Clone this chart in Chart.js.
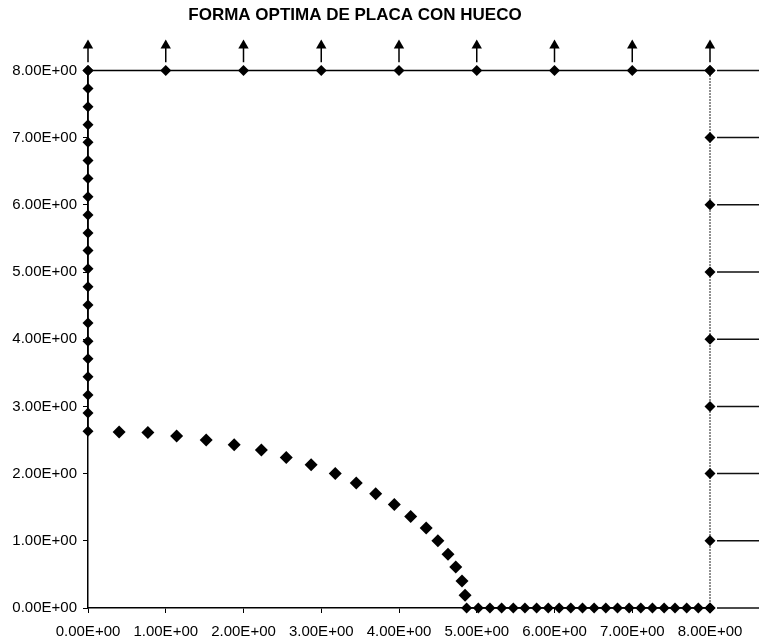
<!DOCTYPE html>
<html>
<head>
<meta charset="utf-8">
<script src="https://cdn.jsdelivr.net/npm/chart.js@4/dist/chart.umd.min.js"></script>
<style>
  html, body { margin: 0; padding: 0; background: #fff; }
  canvas { display: block; }
</style>
</head>
<body>
<canvas id="plate" width="759" height="640"></canvas>
<script>
// === Data ===
const tickLabels = ["0.00E+00", "1.00E+00", "2.00E+00", "3.00E+00", "4.00E+00",
  "5.00E+00", "6.00E+00", "7.00E+00", "8.00E+00"];

// left edge (x = 0)
const leftY = [2.63, 2.90, 3.17, 3.44, 3.71, 3.97, 4.24, 4.51, 4.78, 5.05, 5.32,
  5.58, 5.85, 6.12, 6.39, 6.66, 6.93, 7.19, 7.46, 7.73, 8.00];

// hole boundary
const holeX = [0.40, 0.77, 1.14, 1.52, 1.88, 2.23, 2.55, 2.87, 3.18, 3.45, 3.70,
  3.94, 4.15, 4.35, 4.50, 4.63, 4.73, 4.81, 4.85];
const holeY = [2.62, 2.61, 2.56, 2.50, 2.43, 2.35, 2.24, 2.13, 2.00, 1.86, 1.70,
  1.54, 1.36, 1.19, 1.00, 0.80, 0.61, 0.40, 0.19];

// bottom edge (y = 0)
const bottomX = [4.87, 5.02, 5.17, 5.32, 5.47, 5.62, 5.77, 5.92, 6.06, 6.21, 6.36,
  6.51, 6.66, 6.81, 6.96, 7.11, 7.26, 7.41, 7.55, 7.70, 7.85, 8.00];

// top edge (y = 8) and right edge (x = 8)
const topX = [0, 1, 2, 3, 4, 5, 6, 7, 8];
const rightY = [0, 1, 2, 3, 4, 5, 6, 7, 8];

// loads (arrows above the top edge) and supports (right of the right edge)
const arrowBase = 8.12;
const arrowTip = 8.37;
const supportFrom = 8.09;
const supportTo = 8.65;

// === Build datasets ===
const pts = (xs, ys) => xs.map((x, i) => ({ x, y: ys[i] }));

function segments(list) {
  // list of [a, b] point pairs -> one line with gaps between them
  return list.flatMap(([a, b]) => [a, b, { x: a.x, y: null }]);
}

const diamond = {
  pointStyle: "rectRot",
  pointBackgroundColor: "#000",
  pointBorderColor: "#000",
  pointBorderWidth: 0,
  clip: false,
};

const datasets = [
  {
    label: "top",
    data: pts(topX, topX.map(() => 8)),
    borderColor: "#000",
    borderWidth: 1.5,
    pointRadius: 5.5,
    ...diamond,
  },
  {
    label: "left",
    data: pts(leftY.map(() => 0), leftY),
    borderColor: "#000",
    borderWidth: 1.5,
    pointRadius: 5.5,
    ...diamond,
  },
  {
    label: "right",
    data: pts(rightY.map(() => 8), rightY),
    borderColor: "#222",
    borderWidth: 1,
    borderDash: [2, 1],
    pointRadius: 5.5,
    ...diamond,
  },
  {
    label: "bottom",
    data: pts(bottomX, bottomX.map(() => 0)),
    borderColor: "#000",
    borderWidth: 1.5,
    pointRadius: 5.5,
    ...diamond,
  },
  {
    label: "hole",
    data: pts(holeX, holeY),
    showLine: false,
    pointRadius: 6.5,
    ...diamond,
  },
  {
    label: "arrows",
    data: segments(topX.map((x) => [{ x, y: arrowBase }, { x, y: arrowTip }])),
    borderColor: "#000",
    borderWidth: 1.5,
    pointRadius: 0,
    clip: false,
  },
  {
    label: "heads",
    data: pts(topX, topX.map(() => arrowTip)),
    showLine: false,
    pointStyle: "triangle",
    pointRadius: 6,
    pointBackgroundColor: "#000",
    pointBorderColor: "#000",
    pointBorderWidth: 0,
    clip: false,
    outside: true, // drawn by the plugin below, points sit above the chart area
  },
  {
    label: "supports",
    data: segments(rightY.map((y) => [{ x: supportFrom, y }, { x: supportTo, y }])),
    borderColor: "#111",
    borderWidth: 1.5,
    pointRadius: 0,
    clip: false,
  },
];

// points outside the chart area are skipped by Chart.js, so draw them here
const outsidePoints = {
  id: "outsidePoints",
  afterDatasetsDraw(chart) {
    chart.data.datasets.forEach((ds, i) => {
      if (!ds.outside) return;
      chart.getDatasetMeta(i).data.forEach((el) => el.draw(chart.ctx));
    });
  },
};

// === Chart ===
const axisFont = { family: "'Liberation Sans', Arial, sans-serif", size: 15 };

const axis = (padding, extra) => ({
  type: "linear",
  min: 0,
  max: 8,
  ticks: {
    stepSize: 1,
    color: "#000",
    font: axisFont,
    padding,
    maxRotation: 0,
    callback: (v) => tickLabels[Math.round(v)],
  },
  grid: { drawOnChartArea: false, color: "#000", tickLength: 5 },
  border: { display: true, color: "#000", width: 1.5 },
  ...extra,
});

new Chart(document.getElementById("plate"), {
  type: "line",
  data: { datasets },
  plugins: [outsidePoints],
  options: {
    responsive: false,
    animation: false,
    devicePixelRatio: 1,
    layout: { padding: { left: 0, right: 49, top: 0, bottom: 1 } },
    plugins: {
      legend: { display: false },
      tooltip: { enabled: false },
      title: {
        display: true,
        text: "FORMA OPTIMA DE PLACA CON HUECO",
        color: "#000",
        font: { family: "'Liberation Sans', Arial, sans-serif", size: 17, weight: "bold" },
        padding: { top: 5, bottom: 45 },
      },
    },
    scales: {
      x: axis(10, { afterFit: (s) => { s.height = 31; } }),
      y: axis(6, { afterFit: (s) => { s.width = 88; } }),
    },
  },
});
</script>
</body>
</html>
